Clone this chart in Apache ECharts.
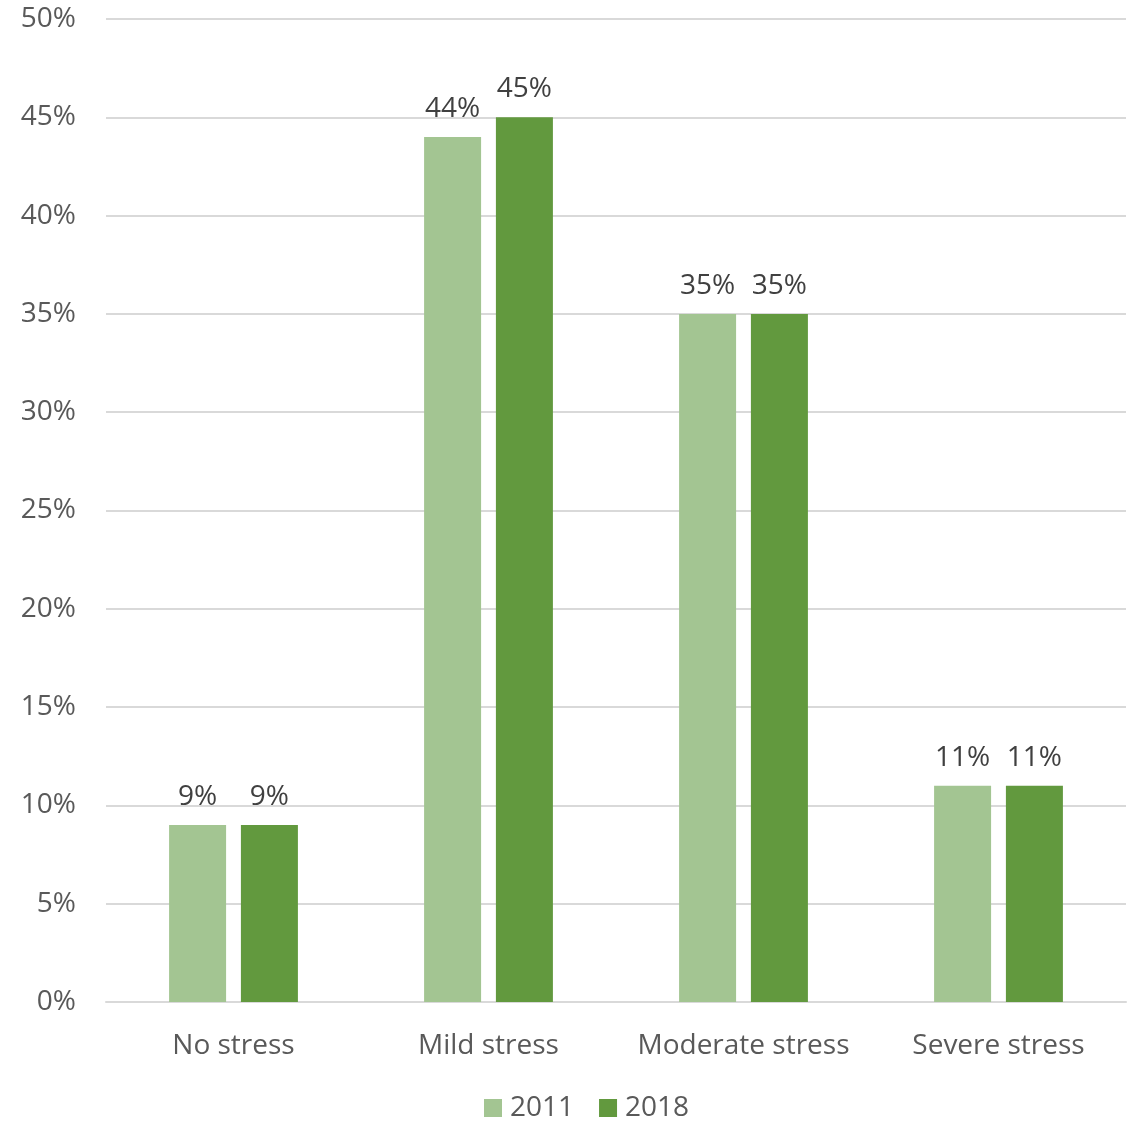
<!DOCTYPE html>
<html><head><meta charset="utf-8">
<script src="https://cdn.jsdelivr.net/npm/echarts@6/dist/echarts.min.js"></script>
<style>html,body{margin:0;padding:0;background:#fff}#c{width:1140px;height:1121px}</style>
</head><body><div id="c"></div>
<script>
const categories = ["No stress", "Mild stress", "Moderate stress", "Severe stress"];
const values2011 = [9, 44, 35, 11];
const values2018 = [9, 45, 35, 11];
const seriesNames = ["2011", "2018"];
const FONT = "Open Sans";
const FS = 28;
const chart = echarts.init(document.getElementById('c'));
const lbl = {show: true, position: 'top', formatter: '{c}%', color: '#404040', fontFamily: FONT, fontSize: FS, distance: 14};
chart.setOption({
  animation: false,
  grid: {left: 106, right: 14, top: 19, bottom: 119, containLabel: false},
  legend: {bottom: -6, left: 479, itemWidth: 18, itemHeight: 18, itemGap: 25,
    textStyle: {color: '#595959', fontFamily: FONT, fontSize: FS, padding: [0, 0, 0, 3]},
    data: seriesNames, icon: 'rect'},
  xAxis: {type: 'category', data: categories,
    axisLine: {lineStyle: {color: '#D9D9D9', width: 2}}, axisTick: {show: false},
    axisLabel: {interval: 0, color: '#595959', fontFamily: FONT, fontSize: FS, margin: 30}},
  yAxis: {type: 'value', min: 0, max: 50, interval: 5,
    axisLine: {show: false}, axisTick: {show: false},
    splitLine: {lineStyle: {color: '#D9D9D9', width: 2}},
    axisLabel: {formatter: '{value}%', color: '#595959', fontFamily: FONT, fontSize: FS, margin: 30}},
  series: [
    {name: seriesNames[0], type: 'bar', data: values2011, barWidth: 57, barGap: '26%', itemStyle: {color: '#A3C592'}, label: lbl},
    {name: seriesNames[1], type: 'bar', data: values2018, barWidth: 57, barGap: '26%', itemStyle: {color: '#62993E'}, label: lbl}
  ]
});
</script></body></html>
